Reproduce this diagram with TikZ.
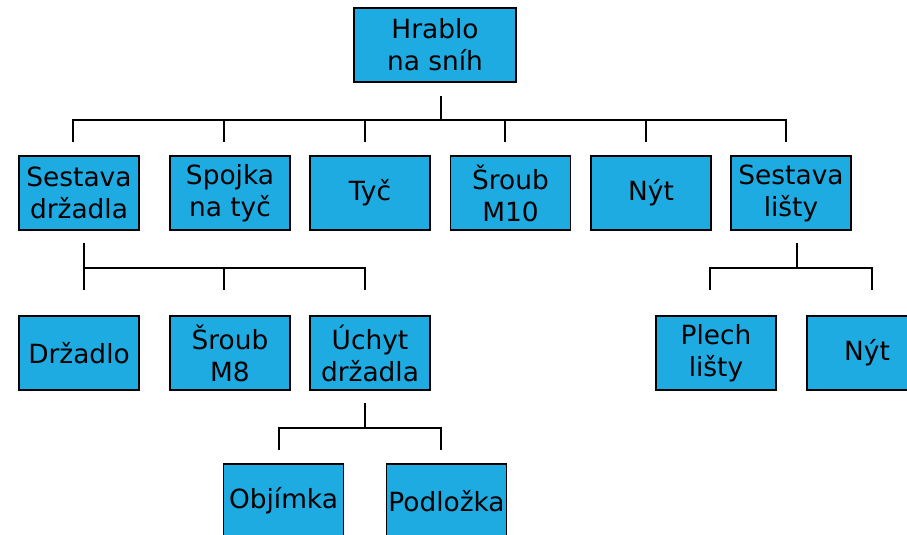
\documentclass[tikz,border=0pt]{standalone}
\usepackage{fontspec}
\setmainfont{DejaVu Sans}
\definecolor{boxblue}{RGB}{30,171,226}
\tikzset{
  part/.style={draw=black, line width=1.3pt, fill=boxblue, inner sep=0pt,
    minimum width=90pt, minimum height=55.5pt, align=center,
    font=\fontsize{19.8}{24}\selectfont},
  link/.style={draw=black, line width=1.15pt}
}
\begin{document}
\begin{tikzpicture}[x=0.75pt,y=-0.75pt]
\clip (0,0) rectangle (907,535);
\fill[white] (0,0) rectangle (907,535);
% level 0
\node[part, minimum width=121.5pt] (root) at (435,45) {Hrablo\\na sníh};
% level 1
\node[part] (sd) at (79,193) {Sestava\\držadla};
\node[part] (sp) at (230,193) {Spojka\\na tyč};
\node[part] (ty) at (370,193) {Tyč};
\node[part] (s10) at (510.5,193) {Šroub\\M10};
\node[part] (nyt) at (651,193) {Nýt};
\node[part] (sl) at (791,193) {Sestava\\lišty};
% level 2
\node[part] (dr) at (79,353) {Držadlo};
\node[part] (s8) at (230,353) {Šroub\\M8};
\node[part] (uch) at (370,353) {Úchyt\\držadla};
\node[part] (pl) at (716,353) {Plech\\lišty};
\node[part] (nyt2) at (867,353) {Nýt};
% level 3
\node[part] (obj) at (283.5,501) {Objímka};
\node[part] (pod) at (446.5,501) {Podložka};
% connectors: root
\draw[link] ([shift={(6,13)}]root.south) -- ++(0,24) coordinate (b0);
\draw[link] (b0) -| ([shift={(-6,-13)}]sd.north);
\draw[link] (b0) -| ([shift={(-6,-13)}]sp.north);
\draw[link] (b0) -| ([shift={(-5,-13)}]ty.north);
\draw[link] (b0) -| ([shift={(-5.5,-13)}]s10.north);
\draw[link] (b0) -| ([shift={(-5,-13)}]nyt.north);
\draw[link] (b0) -| ([shift={(-5,-13)}]sl.north);
% connectors: Sestava drzadla
\draw[link] ([shift={(5,12)}]sd.south) -- ++(0,25) coordinate (b1);
\draw[link] (b1) -| ([shift={(5,-25)}]dr.north);
\draw[link] (b1) -| ([shift={(-6,-25)}]s8.north);
\draw[link] (b1) -| ([shift={(-5,-25)}]uch.north);
% connectors: Uchyt drzadla
\draw[link] ([shift={(-5,12)}]uch.south) -- ++(0,25) coordinate (b2);
\draw[link] (b2) -| ([shift={(-4.5,-13)}]obj.north);
\draw[link] (b2) -| ([shift={(-5.5,-13)}]pod.north);
% connectors: Sestava listy
\draw[link] ([shift={(6,12)}]sl.south) -- ++(0,25) coordinate (b3);
\draw[link] (b3) -| ([shift={(-6,-25)}]pl.north);
\draw[link] (b3) -| ([shift={(5,-25)}]nyt2.north);
\end{tikzpicture}
\end{document}
